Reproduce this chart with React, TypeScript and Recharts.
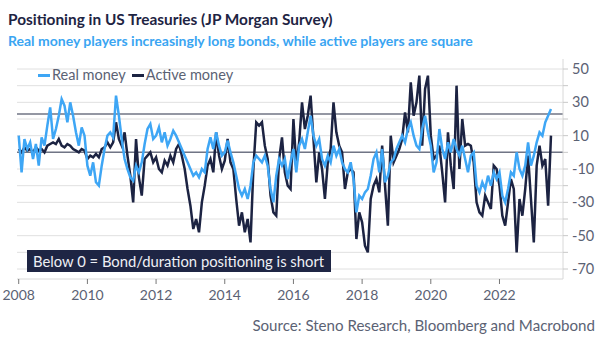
import React from "react";
import {
    LineChart,
    Line,
    XAxis,
    YAxis,
    CartesianGrid,
    ReferenceLine,
} from "recharts";

// monthly readings, starting Jan 2008
const startYear = 2008;

const realMoney = [
    10, -12, 8, 2, 6, -4, 5, -8, 9, 4, 16, 27, 8, 14, 22, 32, 28, 18, 30, 22, 12, 4, 15, 10, -8, -14, -6, -18, -20, -8, 2, 10,
    12, 9, 34, 22, 8, -4, -10, -15, -17, -8, -12, -6, 5, 14, 17, 8, 10, 15, 6, 12, 4, 8, 13, 10, 6, 2, -2, -6, -10, -14, -12, -15,
    -10, -12, 2, 9, 2, 12, 4, -2, 0, 7, 0, -6, -14, -22, -26, -22, -28, -20, -6, -2, -4, -6, -2, -8, -22, -30, -14, -4, -8, -4, -16,
    -6, 2, -12, 4, 8, 2, 12, 22, 10, 4, 8, -4, -8, -2, -6, 4, -2, 2, -6, -10, -12, -6, -16, -36, -26, -28, -24, -22, -14, -4, 0,
    -12, 2, -18, -14, -6, -4, 2, 6, 10, 6, 14, 18, 10, 4, 2, 14, 22, 12, 4, -12, -6, 14, 2, -4, 6, 0, 8, 2, -2, 4,
    -4, -12, -2, 0, -20, -24, -18, -22, -14, -20, -12, -16, -12, -26, -30, -22, -12, -14, 0, -10, -14, -8, 6, -8, -2, 6, 12, 10, 18, 22, 26,
];

const activeMoney = [
    2, 0, 3, 1, 2, 0, 3, 1, 2, 0, 4, 5, 6, 5, 8, 4, 3, 5, 4, 2, 1, 0, 2, 1, -4, -2, -3, -1, -3, 2, 3, 6,
    3, 6, 18, 8, 4, 12, -2, -14, -30, 8, -15, -26, -4, -2, 0, -6, -3, -10, -12, -5, -8, -2, -6, 2, 5, -2, -10, -22, -32, -46, -40, -48,
    -30, -20, -8, -4, -12, 12, -2, -10, -5, 8, -6, -10, -28, -44, -36, -48, -40, -54, -10, 18, 16, 18, 4, -4, -26, -36, -38, -4, 9, -12, -20,
    -22, 20, -8, 6, 30, 14, 22, 34, 8, -18, 0, -10, -28, -6, 2, 30, 12, 4, 0, -22, -12, -10, -12, -52, -36, -42, -56, -60, -28, -20, -16,
    -24, 4, -20, -44, 10, -6, -2, 2, 8, 24, 12, 42, 22, 30, 46, 4, 38, 46, 10, -4, -2, 4, -12, -30, 12, -8, -22, 40, -10, 20,
    4, 5, 4, -6, -30, -36, -38, -26, -30, -34, -8, -10, -20, -38, -44, -30, -16, -22, -60, -28, -38, -22, -2, -28, -54, -8, 4, -8, -4, -32, 10,
];

const yearTicks = [2008, 2010, 2012, 2014, 2016, 2018, 2020, 2022];
const valueTicks = [-70, -60, -50, -40, -30, -20, -10, 0, 10, 20, 30, 40, 50];
const labelledValues = [50, 30, 10, -10, -30, -50, -70];
const guideLevels = [0, 23];

const data = realMoney.map((v, i) => ({
    t: startYear + i / 12,
    real: v,
    active: activeMoney[i],
}));

const font = "Lato, 'Open Sans', sans-serif";
const realColor = "#3ea6f5";
const activeColor = "#1c2342";
const textGray = "#5b6274";

function LegendItem({ color, label }: { color: string; label: string }) {
    return (
        <span style={{ display: "inline-flex", alignItems: "center", marginRight: 6 }}>
            <span style={{ width: 12, height: 3, background: color, display: "inline-block", marginRight: 2 }} />
            <span>{label}</span>
        </span>
    );
}

function App() {
    return (
        <div style={{ position: "absolute", left: 0, top: 0, width: 602, height: 344, background: "#fff", fontFamily: font }}>
            <div style={{ position: "absolute", left: 8, top: 9, fontSize: 15.4, fontWeight: 700, color: "#1e2443", lineHeight: "20px", whiteSpace: "nowrap" }}>
                Positioning in US Treasuries (JP Morgan Survey)
            </div>
            <div style={{ position: "absolute", left: 8, top: 32, fontSize: 14, fontWeight: 700, color: "#3aa5f2", lineHeight: "17px", whiteSpace: "nowrap" }}>
                Real money players increasingly long bonds, while active players are square
            </div>
            <div style={{ position: "absolute", left: 0, top: 0 }}>
                <LineChart
                    width={602}
                    height={310}
                    data={data}
                    margin={{ top: 59, right: 0, left: 17, bottom: 0 }}>
                    <CartesianGrid
                        vertical={false}
                        stroke="#e0e0e0"
                        horizontalValues={valueTicks}
                    />
                    <XAxis
                        dataKey="t"
                        type="number"
                        domain={[2007.95, 2023.85]}
                        ticks={yearTicks}
                        height={31}
                        stroke="#d8d8d8"
                        tickLine={{ stroke: "#777" }}
                        tickSize={5}
                        tickMargin={6}
                        tick={{ fill: textGray, fontSize: 14, fontFamily: font }}
                    />
                    <YAxis
                        orientation="right"
                        type="number"
                        domain={[-76, 56]}
                        ticks={valueTicks}
                        interval={0}
                        width={39}
                        stroke="#d8d8d8"
                        tickLine={{ stroke: "#c8c8c8" }}
                        tickSize={5}
                        tickMargin={4}
                        tickFormatter={(v: number) => (labelledValues.includes(v) ? String(v) : "")}
                        tick={{ fill: textGray, fontSize: 14.5, fontFamily: font }}
                    />
                    {guideLevels.map((g) => (
                        <ReferenceLine key={g} y={g} stroke="#707585" strokeWidth={1.5} />
                    ))}
                    <Line
                        dataKey="active"
                        stroke={activeColor}
                        strokeWidth={2.5}
                        dot={false}
                        type="linear"
                        isAnimationActive={false}
                    />
                    <Line
                        dataKey="real"
                        stroke={realColor}
                        strokeWidth={2.5}
                        dot={false}
                        type="linear"
                        isAnimationActive={false}
                    />
                </LineChart>
            </div>
            <div style={{ position: "absolute", left: 38, top: 66, fontSize: 14.5, color: textGray, display: "flex", lineHeight: "18px", whiteSpace: "nowrap" }}>
                <LegendItem color={realColor} label="Real money" />
                <LegendItem color={activeColor} label="Active money" />
            </div>
            <div style={{ position: "absolute", left: 27, top: 250, width: 304, height: 22, background: "#1e2544", color: "#eef0f5", fontSize: 14.8, lineHeight: "22px", paddingLeft: 6, boxSizing: "border-box", whiteSpace: "nowrap" }}>
                Below 0 = Bond/duration positioning is short
            </div>
            <div style={{ position: "absolute", right: 7, top: 316, fontSize: 15.1, color: textGray, lineHeight: "18px", whiteSpace: "nowrap" }}>
                Source: Steno Research, Bloomberg and Macrobond
            </div>
        </div>
    );
}

export default App;
